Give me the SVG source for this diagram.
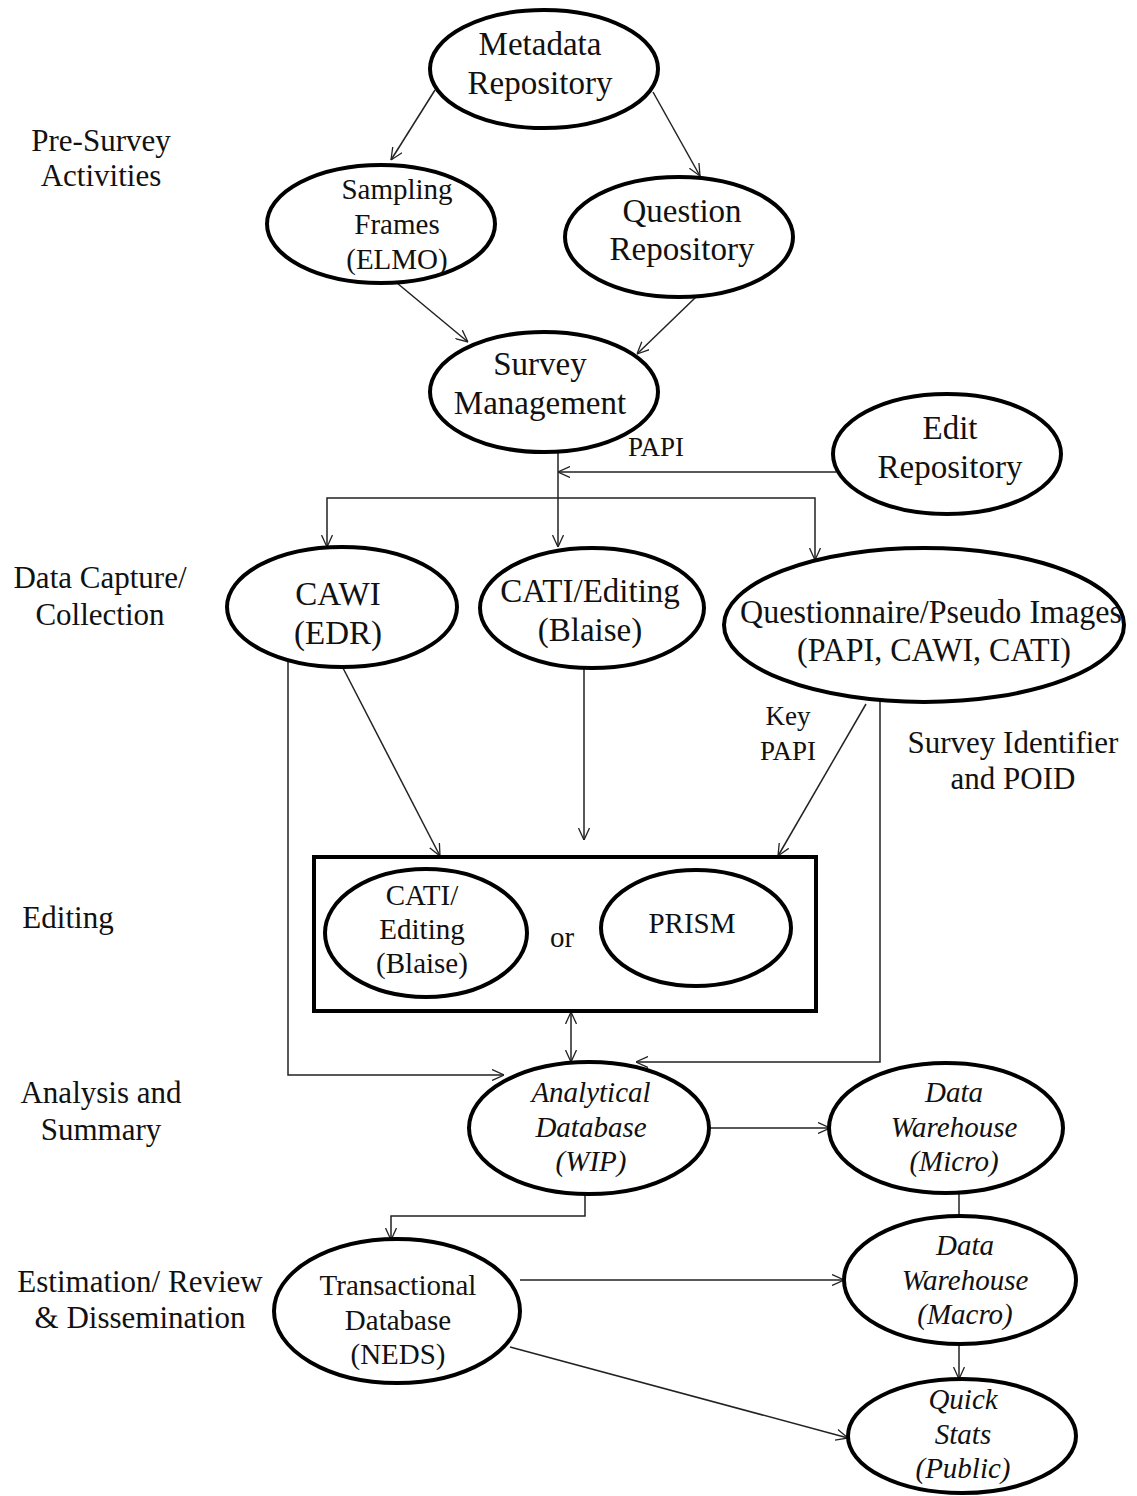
<svg xmlns="http://www.w3.org/2000/svg" width="1137" height="1496" viewBox="0 0 1137 1496">
  <defs>
    <marker id="arrow" viewBox="0 0 12 12" refX="12" refY="6" markerWidth="12" markerHeight="12" markerUnits="userSpaceOnUse" orient="auto-start-reverse">
      <path d="M0,0.5 L12,6 L0,11.5" fill="none" stroke="#222" stroke-width="1.3"/>
    </marker>
    <style>
      text { font-family: "Liberation Serif", "Times New Roman", serif; fill: #111; text-anchor: middle; }
      .node ellipse { fill: #fff; stroke: #000; stroke-width: 4; }
      .big { font-size: 33px; }
      .mid { font-size: 29px; }
      .ital { font-size: 29px; font-style: italic; }
      .stage { font-size: 31px; }
      .lbl { font-size: 27px; }
      #connectors path, #connectors line { fill: none; stroke: #222; stroke-width: 1.5; }
      .arr { marker-end: url(#arrow); }
      .dbl { marker-start: url(#arrow); marker-end: url(#arrow); }
    </style>
  </defs>
  <rect width="1137" height="1496" fill="#fff"/>

  <!-- stage labels on the left -->
  <g id="stages">
    <text class="stage" x="101" y="151">Pre-Survey</text>
    <text class="stage" x="101" y="186">Activities</text>
    <text class="stage" x="100" y="588">Data Capture/</text>
    <text class="stage" x="100" y="625">Collection</text>
    <text class="stage" x="68" y="928">Editing</text>
    <text class="stage" x="101" y="1103">Analysis and</text>
    <text class="stage" x="101" y="1140">Summary</text>
    <text class="stage" x="140" y="1292">Estimation/ Review</text>
    <text class="stage" x="140" y="1328">&amp; Dissemination</text>
  </g>

  <!-- connectors -->
  <g id="connectors">
    <line class="arr" x1="435" y1="90" x2="391" y2="160"/>
    <line class="arr" x1="653" y1="92" x2="700" y2="176"/>
    <line class="arr" x1="397" y1="283" x2="468" y2="342"/>
    <line class="arr" x1="696" y1="297" x2="637" y2="354"/>
    <!-- Survey Management fan-out -->
    <line class="arr" x1="558" y1="451" x2="558" y2="547"/>
    <line class="arr" x1="836" y1="472" x2="558" y2="472"/>
    <path class="arr" d="M558,498 H327 V547"/>
    <path class="arr" d="M558,498 H815 V560"/>
    <!-- into the editing box -->
    <line class="arr" x1="343" y1="668" x2="440" y2="856"/>
    <line class="arr" x1="584" y1="668" x2="584" y2="840"/>
    <line class="arr" x1="866" y1="704" x2="778" y2="856"/>
    <!-- into the analytical database -->
    <path class="arr" d="M288,662 V1075 H504"/>
    <path class="arr" d="M880,700 V1062 H636"/>
    <line class="dbl" x1="571" y1="1012" x2="571" y2="1062"/>
    <!-- downstream -->
    <line class="arr" x1="709" y1="1128" x2="830" y2="1128"/>
    <line x1="959" y1="1193" x2="959" y2="1216"/>
    <path class="arr" d="M585,1193 V1216 H391 V1240"/>
    <line class="arr" x1="520" y1="1280" x2="844" y2="1280"/>
    <line class="arr" x1="959" y1="1344" x2="959" y2="1379"/>
    <line class="arr" x1="510" y1="1347" x2="848" y2="1438"/>
  </g>

  <!-- connector labels -->
  <g id="labels">
    <text class="lbl" x="656" y="456">PAPI</text>
    <text class="lbl" x="788" y="725">Key</text>
    <text class="lbl" x="788" y="760">PAPI</text>
    <text class="stage" x="1013" y="753">Survey Identifier</text>
    <text class="stage" x="1013" y="789">and POID</text>
  </g>

  <g id="metadata-repository" class="node">
    <ellipse cx="544" cy="69" rx="114" ry="59"/>
    <text class="big" x="540" y="55">Metadata</text>
    <text class="big" x="540" y="94">Repository</text>
  </g>

  <g id="sampling-frames" class="node">
    <ellipse cx="381" cy="224" rx="114" ry="59"/>
    <text class="mid" x="397" y="199">Sampling</text>
    <text class="mid" x="397" y="234">Frames</text>
    <text class="mid" x="397" y="269">(ELMO)</text>
  </g>

  <g id="question-repository" class="node">
    <ellipse cx="679" cy="237" rx="114" ry="60"/>
    <text class="big" x="682" y="222">Question</text>
    <text class="big" x="682" y="260">Repository</text>
  </g>

  <g id="survey-management" class="node">
    <ellipse cx="544" cy="392" rx="114" ry="60"/>
    <text class="big" x="540" y="375">Survey</text>
    <text class="big" x="540" y="414">Management</text>
  </g>

  <g id="edit-repository" class="node">
    <ellipse cx="947" cy="454" rx="114" ry="60"/>
    <text class="big" x="950" y="439">Edit</text>
    <text class="big" x="950" y="478">Repository</text>
  </g>

  <g id="cawi" class="node">
    <ellipse cx="342" cy="607" rx="115" ry="60"/>
    <text class="big" x="338" y="605">CAWI</text>
    <text class="big" x="338" y="644">(EDR)</text>
  </g>

  <g id="cati-editing" class="node">
    <ellipse cx="592" cy="608" rx="112" ry="60"/>
    <text class="big" x="590" y="602">CATI/Editing</text>
    <text class="big" x="590" y="641">(Blaise)</text>
  </g>

  <g id="questionnaire-images" class="node">
    <ellipse cx="924" cy="625" rx="200" ry="77"/>
    <text class="big" x="931" y="623" font-size="32" textLength="382" lengthAdjust="spacingAndGlyphs">Questionnaire/Pseudo Images</text>
    <text class="big" x="934" y="661" font-size="32" textLength="274" lengthAdjust="spacingAndGlyphs">(PAPI, CAWI, CATI)</text>
  </g>

  <!-- editing stage: one of two tools -->
  <g id="editing-box">
    <rect x="314" y="857" width="502" height="154" fill="none" stroke="#000" stroke-width="4"/>
    <text class="mid" x="562" y="947">or</text>
  </g>

  <g id="cati-editing-box" class="node">
    <ellipse cx="426" cy="933" rx="101" ry="64"/>
    <text class="mid" x="422" y="905">CATI/</text>
    <text class="mid" x="422" y="939">Editing</text>
    <text class="mid" x="422" y="973">(Blaise)</text>
  </g>

  <g id="prism" class="node">
    <ellipse cx="696" cy="928" rx="95" ry="58"/>
    <text class="mid" x="692" y="933">PRISM</text>
  </g>

  <g id="analytical-database" class="node">
    <ellipse cx="589" cy="1128" rx="120" ry="66"/>
    <text class="ital" x="591" y="1102">Analytical</text>
    <text class="ital" x="591" y="1137">Database</text>
    <text class="ital" x="591" y="1171">(WIP)</text>
  </g>

  <g id="data-warehouse-micro" class="node">
    <ellipse cx="946" cy="1128" rx="117" ry="65"/>
    <text class="ital" x="954" y="1102">Data</text>
    <text class="ital" x="954" y="1137">Warehouse</text>
    <text class="ital" x="954" y="1171">(Micro)</text>
  </g>

  <g id="transactional-database" class="node">
    <ellipse cx="397" cy="1311" rx="123" ry="72"/>
    <text class="mid" x="398" y="1295">Transactional</text>
    <text class="mid" x="398" y="1330">Database</text>
    <text class="mid" x="398" y="1364">(NEDS)</text>
  </g>

  <g id="data-warehouse-macro" class="node">
    <ellipse cx="960" cy="1280" rx="116" ry="64"/>
    <text class="ital" x="965" y="1255">Data</text>
    <text class="ital" x="965" y="1290">Warehouse</text>
    <text class="ital" x="965" y="1324">(Macro)</text>
  </g>

  <g id="quick-stats" class="node">
    <ellipse cx="962" cy="1436" rx="114" ry="57"/>
    <text class="ital" x="963" y="1409">Quick</text>
    <text class="ital" x="963" y="1444">Stats</text>
    <text class="ital" x="963" y="1478">(Public)</text>
  </g>
</svg>
